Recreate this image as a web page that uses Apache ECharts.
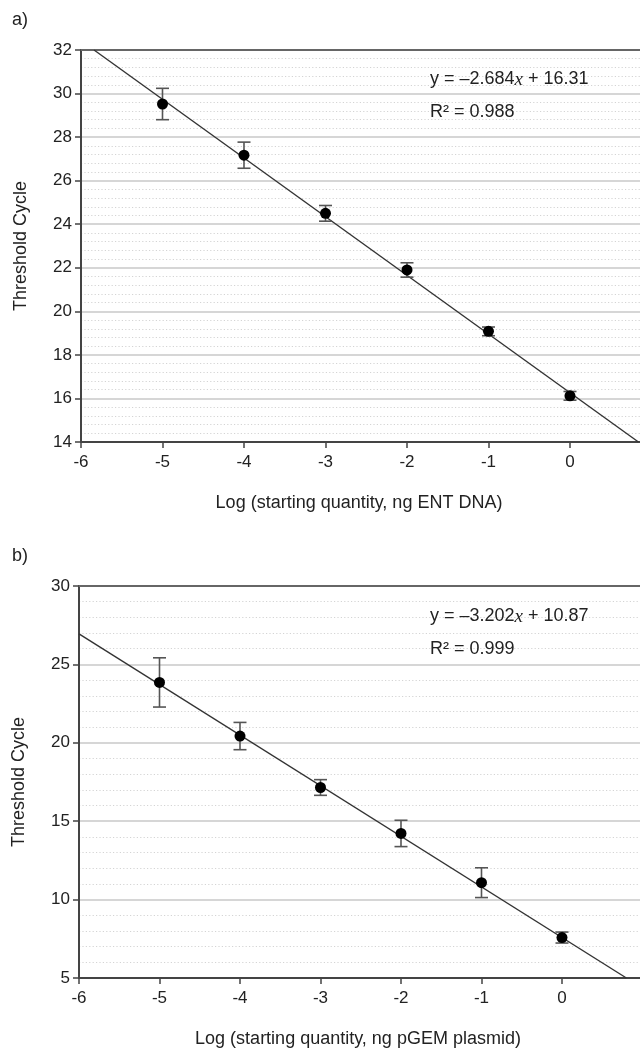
<!DOCTYPE html>
<html>
<head>
<meta charset="utf-8">
<script src="https://cdn.jsdelivr.net/npm/echarts@6/dist/echarts.min.js"></script>
<style>
  html, body { margin: 0; padding: 0; background: #fff; }
  #main { width: 640px; height: 1049px; }
</style>
</head>
<body>
<div id="main"></div>
<script>
  // panel a) ENT DNA
  var logQtyA = [-5, -4, -3, -2, -1, 0];
  var ctA = [29.52, 27.17, 24.5, 21.9, 19.08, 16.12];
  var errA = [0.72, 0.6, 0.36, 0.33, 0.2, 0.2];
  var fitA = [[-5.84, 32], [0.84, 14]];

  // panel b) pGEM plasmid
  var logQtyB = [-5, -4, -3, -2, -1, 0];
  var ctB = [23.85, 20.43, 17.15, 14.22, 11.08, 7.58];
  var errB = [1.57, 0.87, 0.5, 0.84, 0.95, 0.35];
  var fitB = [[-6, 26.95], [0.8, 5]];

  var FONT = 'Liberation Sans, Arial, Helvetica, sans-serif';

  function pts(xs, ys) {
    var out = [];
    for (var i = 0; i < xs.length; i++) out.push([xs[i], ys[i]]);
    return out;
  }
  function bars(xs, ys, es) {
    var out = [];
    for (var i = 0; i < xs.length; i++) out.push([xs[i], ys[i] - es[i], ys[i] + es[i]]);
    return out;
  }

  // error bars drawn through the axis scale
  function errRender(params, api) {
    var lo = api.coord([api.value(0), api.value(1)]);
    var hi = api.coord([api.value(0), api.value(2)]);
    var w = 6.5;
    var st = { stroke: '#555', lineWidth: 1.6 };
    return {
      type: 'group',
      children: [
        { type: 'line', shape: { x1: lo[0], y1: lo[1], x2: hi[0], y2: hi[1] }, style: st },
        { type: 'line', shape: { x1: lo[0] - w, y1: lo[1], x2: lo[0] + w, y2: lo[1] }, style: st },
        { type: 'line', shape: { x1: hi[0] - w, y1: hi[1], x2: hi[0] + w, y2: hi[1] }, style: st }
      ]
    };
  }

  function xAxisCfg(idx, max, name) {
    return {
      type: 'value', gridIndex: idx, min: -6, max: max, interval: 1,
      name: name, nameLocation: 'middle', nameGap: 52,
      nameTextStyle: { fontFamily: FONT, fontSize: 18, color: '#222', padding: [0, 10, 0, 0] },
      axisLine: { show: true, onZero: false, lineStyle: { color: '#444', width: 2 } },
      axisTick: { show: true, length: 6, lineStyle: { color: '#444', width: 1.5 } },
      axisLabel: {
        fontFamily: FONT, fontSize: 17, color: '#222', margin: 12,
        formatter: function (v) { return (Number.isInteger(v) && v <= 0) ? String(v) : ''; }
      },
      splitLine: { show: false }
    };
  }
  // plain line along the top of each plot
  function topAxisCfg(idx, max) {
    return {
      type: 'value', gridIndex: idx, position: 'top', min: -6, max: max,
      axisLine: { show: true, onZero: false, lineStyle: { color: '#666', width: 2 } },
      axisTick: { show: false }, axisLabel: { show: false }, splitLine: { show: false }
    };
  }
  function yAxisCfg(idx, min, max, step) {
    return {
      type: 'value', gridIndex: idx, min: min, max: max, interval: step,
      name: 'Threshold Cycle', nameLocation: 'middle', nameGap: 51,
      nameTextStyle: { fontFamily: FONT, fontSize: 18, color: '#222' },
      axisLine: { show: true, onZero: false, lineStyle: { color: '#444', width: 2 } },
      axisTick: { show: true, length: 6, lineStyle: { color: '#444', width: 1.5 } },
      axisLabel: { fontFamily: FONT, fontSize: 17, color: '#222', margin: 9 },
      splitLine: { show: true, lineStyle: { color: '#c8c8c8', width: 1.5 } },
      minorTick: { show: false, splitNumber: 5 },
      minorSplitLine: { show: true, lineStyle: { color: '#d4d4d4', width: 1.2, type: [1.2, 2.2] } }
    };
  }

  var eqRich = {
    n: { fontFamily: FONT, fontSize: 18, fontWeight: 'normal', color: '#222' },
    i: { fontFamily: 'Liberation Serif, Times New Roman, serif', fontStyle: 'italic', fontWeight: 'normal', fontSize: 19, color: '#222' }
  };
  var lblStyle = { fontFamily: FONT, fontSize: 18, fontWeight: 'normal', color: '#222' };

  var option = {
    animation: false,
    backgroundColor: '#fff',
    title: [
      { text: 'a)', left: 12, top: 11, padding: 0, textStyle: lblStyle },
      { text: 'b)', left: 12, top: 547, padding: 0, textStyle: lblStyle },
      { text: '{n|y = –2.684}{i|x}{n| + 16.31}', left: 430, top: 70, padding: 0, textStyle: { fontWeight: 'normal', rich: eqRich } },
      { text: '{n|R² = 0.988}', left: 430, top: 103, padding: 0, textStyle: { fontWeight: 'normal', rich: eqRich } },
      { text: '{n|y = –3.202}{i|x}{n| + 10.87}', left: 430, top: 607, padding: 0, textStyle: { fontWeight: 'normal', rich: eqRich } },
      { text: '{n|R² = 0.999}', left: 430, top: 640, padding: 0, textStyle: { fontWeight: 'normal', rich: eqRich } }
    ],
    grid: [
      { left: 81, top: 50, width: 566, height: 392, outerBoundsMode: 'none' },
      { left: 79, top: 586, width: 568, height: 392, outerBoundsMode: 'none' }
    ],
    xAxis: [
      xAxisCfg(0, 0.945, 'Log (starting quantity, ng ENT DNA)'),
      xAxisCfg(1, 1.056, 'Log (starting quantity, ng pGEM plasmid)'),
      topAxisCfg(0, 0.945),
      topAxisCfg(1, 1.056)
    ],
    yAxis: [
      yAxisCfg(0, 14, 32, 2),
      yAxisCfg(1, 5, 30, 5)
    ],
    series: [
      {
        type: 'line', xAxisIndex: 0, yAxisIndex: 0, data: fitA, showSymbol: false,
        lineStyle: { color: '#333', width: 1.4 }, silent: true, z: 3
      },
      {
        type: 'custom', xAxisIndex: 0, yAxisIndex: 0, data: bars(logQtyA, ctA, errA),
        renderItem: errRender, z: 4
      },
      {
        type: 'scatter', xAxisIndex: 0, yAxisIndex: 0, data: pts(logQtyA, ctA),
        symbolSize: 11, itemStyle: { color: '#000', opacity: 1 }, z: 5
      },
      {
        type: 'line', xAxisIndex: 1, yAxisIndex: 1, data: fitB, showSymbol: false,
        lineStyle: { color: '#333', width: 1.4 }, silent: true, z: 3
      },
      {
        type: 'custom', xAxisIndex: 1, yAxisIndex: 1, data: bars(logQtyB, ctB, errB),
        renderItem: errRender, z: 4
      },
      {
        type: 'scatter', xAxisIndex: 1, yAxisIndex: 1, data: pts(logQtyB, ctB),
        symbolSize: 11, itemStyle: { color: '#000', opacity: 1 }, z: 5
      }
    ]
  };

  var chart = echarts.init(document.getElementById('main'));
  chart.setOption(option);
</script>
</body>
</html>
